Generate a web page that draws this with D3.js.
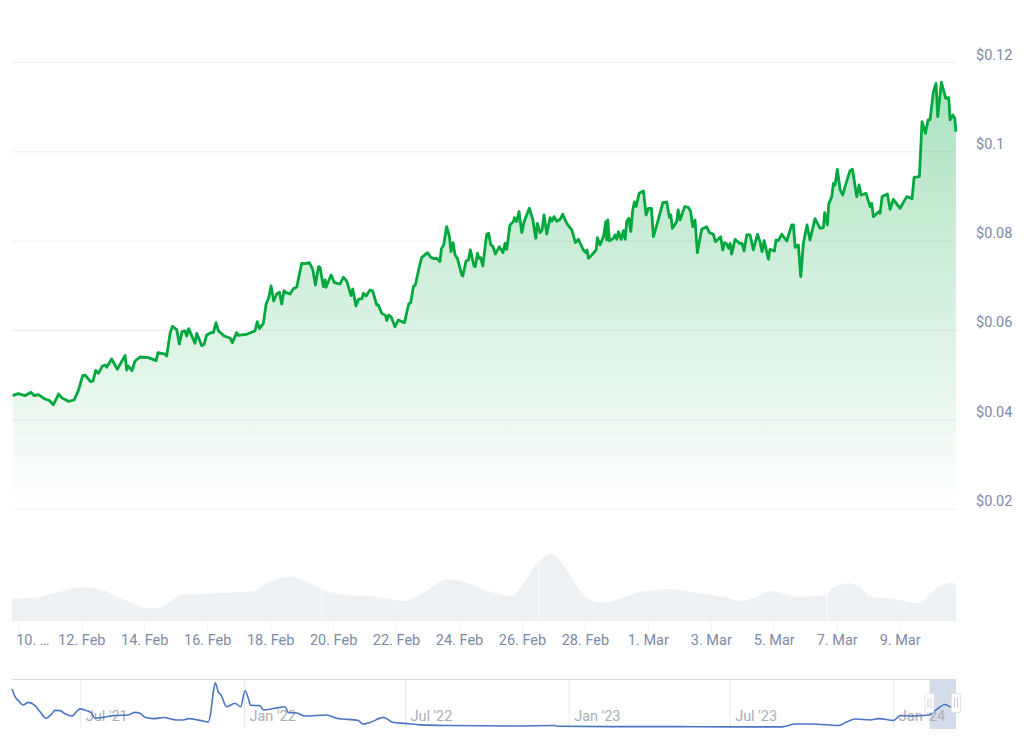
<!DOCTYPE html>
<html>
<head>
<meta charset="utf-8">
<script src="https://cdnjs.cloudflare.com/ajax/libs/d3/7.8.5/d3.min.js"></script>
<style>
  html, body { margin: 0; padding: 0; background: #fff; }
  svg { display: block; }
  text { font-family: Roboto, sans-serif; font-size: 14.5px; }
  .domain { display: none; }
</style>
</head>
<body>
<div id="plot"></div>
<script>
// price samples: roughly hourly steps since the left edge of the chart, and USD price
var priceHours = [0.5,4.8,9.9,14.5,17.1,20.1,25.2,28.5,31.6,35.7,38,43.1,47.4,50.7,54,55.8,60.1,61.9,64,66,69.1,71.4,72.4,76.2,80.5,86.4,87.7,88.9,91.7,94,97.9,104.2,110.1,111.6,117,118.2,120.8,122.6,125.9,127.9,130,132.3,133.5,135,139.9,141.2,145,146.8,148.8,151.9,153.9,155.9,157.7,162.1,166.6,168.4,171.7,173,179.4,185.7,187.5,189.1,192.1,194.2,196.2,198,200,202.3,204.4,206.1,207.9,209.5,212.5,215.1,217.6,221.4,224,227.3,229.8,231.9,234.2,235.4,238,239.3,240,243.9,246.4,250.7,
  253.2,255.8,259.1,260.4,262.9,264.7,267.5,268.5,270.6,273.6,275.7,278.7,280,282.6,285.6,286.4,287.9,289.9,292.7,295.3,299.9,303.2,304.7,306.8,308.3,311.3,313.1,317.5,320,322.6,324.6,327.1,328.2,329.9,332.2,334.3,335.5,337.1,338.6,340.4,343.7,344.5,347,348.8,350.3,353.1,354.1,355.7,356.9,358.2,359.8,362.8,364.3,365.9,367.4,369.4,372.5,375.3,376.8,378.1,380.6,383.2,384,385.7,387.5,389.6,391.4,395.4,398,400.3,401.5,403.6,405.1,406.6,408.7,411.2,412.8,414.3,416.3,418.9,420.9,424,427.8,430.6,432.9,436.7,438.5,439.5,440.5,443.1,446.4,447.4,449.4,452,453.8,454.5,455.3,456.6,459.6,460.9,462.2,463.5,465.5,467.3,468.6,469.8,471.4,472.9,474.4,475.7,477,479.3,482.6,484.6,486.4,488.7,490.2,493.3,497.4,500.4,502.4,503.5,504.7,508,509.1,510.6,
  514.1,516.9,518.7,520.2,522,523.8,527.1,530.9,533,536,537.6,541.6,543.2,544.7,546.2,547.8,548.8,550,552.6,555.9,557.9,559.5,561.5,564.1,566.6,569.7,571.7,573.2,574.8,578.1,579.3,582.7,583.9,585.7,588.3,592.1,595.9,597.2,598.5,601,602.8,604.8,607.6,609.9,613.7,617.6,620.1,621.1,623.2,624.2,626.5,627.8,629,630.8,632.9,634.9,637.4,640.5,642.3,645.6,647.4,648.9,652.7,655.8,657.1,658.3,662.4,663.4,665,669,671.1,673.6,678.7,683.8,687.9,689.4,693.5,695.5,698.1,700.1,701.6,704.2,706.2,707.5,710.3,713.6,715.9,716.9,719,720.5,721.4];
var priceValues = [.04527,.04572,.04527,.04602,.04527,.04549,.04452,.04422,.04325,.04564,.04482,.044,.0443,.04639,.04975,.0499,.0484,.04855,.05094,.05027,.05191,.05214,.05162,.05348,.05117,.0543,.05102,.05191,.05087,.05303,.05393,.05378,.05311,.0549,.0546,.05415,.05923,.0608,.06005,.05684,.05961,.05976,.05863,.06028,.05699,.05923,.05647,.05677,.05886,.05938,.05938,.06162,.05983,.05863,.05819,.05714,.05938,.05878,.05901,.05976,.06185,.06028,.06147,.0658,.06722,.06984,.06648,.06804,.06842,.0658,.06879,.06834,.06804,.06924,.06954,.07491,.07484,.07506,.07357,.07006,.07417,.07402,.06969,.07118,.06954,.0723,.07058,.07028,
  .07178,.07096,.06767,.06916,.06535,.06685,.067,.06819,.0676,.06894,.06871,.06558,.06558,.06371,.06319,.06207,.06334,.06282,.06072,.06222,.06162,.0658,.0661,.06969,.07006,.07417,.07618,.0773,.07626,.07596,.07603,.07529,.0782,.07902,.08313,.08089,.07753,.07954,.07678,.07603,.0723,.07208,.07543,.07566,.0779,.07432,.07417,.07715,.07603,.07618,.07432,.08141,.08163,.07902,.0788,.077,.07865,.0773,.07939,.07805,.0835,.08425,.08514,.08425,.08649,.08178,.08425,.08723,.08477,.08051,.08387,.08178,.08238,.08574,.08148,.08514,.0844,.08537,.08432,.08477,.08589,.08387,.08238,.07954,.08029,.0779,.0773,.0779,.07603,.07678,.0779,.08066,.07902,.08089,.08425,.08014,.08462,.07992,.08051,.08126,.08029,.08201,.08029,.08223,.08029,.08425,.08499,.08201,.08686,.08865,.08761,.09059,.09112,.08574,.08723,.08723,.08089,.08402,.0885,.08865,.08522,.08574,.08275,.08425,.08686,.08462,
  .0876,.08746,.08648,.08312,.08462,.0773,.08253,.08312,.08178,.08141,.07976,.08088,.0779,.07954,.07924,.07827,.07939,.077,.08029,.07939,.07939,.07767,.08126,.08126,.0779,.08141,.07976,.07752,.07999,.07581,.07805,.07767,.08014,.07999,.08141,.07991,.0835,.0835,.0785,.07902,.07192,.07939,.0835,.08014,.08492,.08275,.0829,.08626,.0835,.0882,.08985,.09283,.09246,.09597,.09134,.09022,.09283,.09567,.09597,.08985,.09246,.09022,.09059,.0876,.08835,.08537,.08648,.08611,.08985,.09044,.08701,.08925,.08723,.08985,.0894,.09418,.09433,.10665,.10403,.10702,.10702,.11337,.11523,.10777,.11546,.11187,.11202,.10702,.10814,.10739,.10441];

// volume curve in the lower panel, relative units
var volumeHours = [0,11.2,24,36.7,54.5,69.8,80,92.7,100.4,111.9,120.8,128.4,143.7,169.2,184.5,197.2,212.5,225.2,236.7,255.8,278.7,299.1,306.8,315.7,333.5,347.5,365.4,382.2,389.8,401.3,411.5,420.4,428.1,437,447.2,453.5,463.7,479,501.9,522.3,545.3,558,565.7,580.9,601.3,606.4,621.7,626.8,640.8,649.7,656.1,670.1,694.3,698.2,710.9,719.8,721.4];
var volumeValues = [23.7,22.7,25,29.3,33.7,31,24.3,17.7,13.3,13.3,19.3,26,27,28.7,30.3,39.3,44.3,39.3,31.7,26,24.3,20.3,22.7,29.3,41.7,38.3,29.3,25,36,57.7,67,57.7,42.7,26,18.7,18.3,22,28.7,31.7,28.3,23.7,20,22.7,30,23.7,24.3,26,32.7,37.7,32.7,24.3,22.7,17.7,22.7,36,38.3,34.3];
// thin pale breaks in the volume area
var volumeGapHours = [237, 402.5, 622.8];

// navigator: days since 1 Jul 2021 and USD price
var navDays = [-76.5,-73.3,-69.5,-63.9,-58.3,-50.8,-45.2,-38.5,-32.1,-28.4,-22.8,-17.2,-9.7,-.3,7.1,12.7,16.5,25.8,37.1,53.9,61.4,67,72.6,81.9,93.2,108.1,115.6,121.2,134.3,143.7,146.3,149.3,151.5,154.9,157.5,164.2,173.6,180,184.8,188.5,191.1,201.6,205.4,218.4,229.7,233.4,242.8,252.1,276.4,287.6,311.9,316.8,325,340,351.2,364.3,381.1,414.8,484.4,533,534.9,596.6,671.4,738.7,787.3,802.3,821,850.9,860.3,869.6,886.5,895.8,912.6,920.1,933.2,951.9,960.1,970.6,976.2,982.6];
var navValues = [.177,.142,.123,.103,.115,.1,.072,.042,.062,.078,.077,.063,.052,.085,.077,.065,.042,.046,.054,.057,.069,.065,.046,.04,.045,.034,.034,.04,.032,.025,.065,.165,.206,.162,.152,.095,.111,.095,.169,.134,.102,.1,.08,.088,.095,.068,.066,.052,.057,.042,.031,.015,.022,.046,.022,.018,.011,.008,.006,.008,.005,.003,.003,.002,.002,.015,.015,.008,.026,.038,.034,.04,.032,.054,.052,.057,.08,.105,.095,.098];

// axis labels
var xTickDates = ["2024-02-10","2024-02-12","2024-02-14","2024-02-16","2024-02-18","2024-02-20","2024-02-22","2024-02-24","2024-02-26","2024-02-28","2024-03-01","2024-03-03","2024-03-05","2024-03-07","2024-03-09"];
var xTickLabels = ["10. \u2026","12. Feb","14. Feb","16. Feb","18. Feb","20. Feb","22. Feb","24. Feb","26. Feb","28. Feb","1. Mar","3. Mar","5. Mar","7. Mar","9. Mar"];
var yTicks = [0.02,0.04,0.06,0.08,0.1,0.12];
var yTickLabels = ["$0.02","$0.04","$0.06","$0.08","$0.1","$0.12"];
var navTickDates = ["2021-07-01","2022-01-01","2022-07-01","2023-01-01","2023-07-01","2024-01-01"];
var navTickLabels = ["Jul '21","Jan '22","Jul '22","Jan '23","Jul '23","Jan '24"];

var svgWidth = 1024;
var svgHeight = 747;
var left = 12, right = 956;
var HOUR = 3600000, DAY = 86400000;

var svg = d3.select("#plot").append("svg")
  .attr("width", svgWidth)
  .attr("height", svgHeight);

// time scale for the main chart
var startTime = Date.UTC(2024, 1, 9, 19, 10);
var sampleStep = 0.9977 * HOUR;
var xScale = d3.scaleUtc()
  .domain([startTime, startTime + 719.8 * HOUR])
  .range([left, right]);
var priceTime = h => startTime + h * sampleStep;

var yScale = d3.scaleLinear().domain([0.02, 0.12]).range([508.5, 62]);
var volScale = d3.scaleLinear().domain([0, 100]).range([621, 521]);

var defs = svg.append("defs");
var grad = defs.append("linearGradient")
  .attr("id", "priceFill")
  .attr("x1", 0).attr("y1", 0).attr("x2", 0).attr("y2", 1);
grad.append("stop").attr("offset", "0%").attr("stop-color", "#00a83e").attr("stop-opacity", 0.33);
grad.append("stop").attr("offset", "100%").attr("stop-color", "#00a83e").attr("stop-opacity", 0);

// y axis, gridlines run the whole plot width
var yAxis = d3.axisRight(yScale)
  .tickValues(yTicks)
  .tickSize(right - left)
  .tickFormat((d, i) => yTickLabels[i]);
var yG = svg.append("g")
  .attr("transform", `translate(${left}, 0)`)
  .call(yAxis);
yG.selectAll(".tick line").attr("stroke", "#ebeff3").attr("stroke-width", 1);
yG.selectAll(".tick text")
  .attr("x", 964)
  .attr("dy", "-3")
  .attr("fill", "#7c8aa5")
  .style("font-size", "14.5px");

// volume
var volArea = d3.area()
  .x((d, i) => xScale(priceTime(volumeHours[i])))
  .y0(volScale(0))
  .y1(d => volScale(d))
  .curve(d3.curveMonotoneX);
svg.append("path")
  .datum(volumeValues)
  .attr("d", volArea)
  .attr("fill", "#eff2f5");
svg.selectAll(".volGap")
  .data(volumeGapHours)
  .enter()
  .append("line")
  .attr("class", "volGap")
  .attr("x1", d => xScale(priceTime(d)))
  .attr("x2", d => xScale(priceTime(d)))
  .attr("y1", 560)
  .attr("y2", 621)
  .attr("stroke", "#fff")
  .attr("stroke-opacity", 0.7);

// price area + line
var priceArea = d3.area()
  .x((d, i) => xScale(priceTime(priceHours[i])))
  .y0(yScale(0.02))
  .y1(d => yScale(d));
var priceLine = d3.line()
  .x((d, i) => xScale(priceTime(priceHours[i])))
  .y(d => yScale(d));

svg.append("path")
  .datum(priceValues)
  .attr("d", priceArea)
  .attr("fill", "url(#priceFill)");
svg.append("path")
  .datum(priceValues)
  .attr("d", priceLine)
  .attr("fill", "none")
  .attr("stroke", "#00a83e")
  .attr("stroke-width", 2.8)
  .attr("stroke-linejoin", "round");

// bottom axis of the main chart
var xAxis = d3.axisBottom(xScale)
  .tickValues(xTickDates.map(d => new Date(d + "T00:00:00Z")))
  .tickSize(10)
  .tickPadding(4)
  .tickFormat((d, i) => xTickLabels[i]);
var xG = svg.append("g")
  .attr("transform", "translate(0, 621)")
  .call(xAxis);
xG.selectAll(".tick line").attr("stroke", "#eef1f5");
xG.selectAll(".tick text").attr("fill", "#7c8aa5").style("font-size", "14.5px");
// first label gets pushed in from the edge
xG.select(".tick text").attr("dx", 14);

// navigator
var navScale = d3.scaleUtc()
  .domain([Date.UTC(2021, 6, 1) - 76.8 * DAY, Date.UTC(2021, 6, 1) + 984.5 * DAY])
  .range([left, right]);
var navTime = d => Date.UTC(2021, 6, 1) + d * 1.0019 * DAY;
var navY = d3.scaleLinear().domain([0, 0.206]).range([727.3, 682.7]);

var navTop = 679.5, navBottom = 729;
var selectFrom = navScale.invert(929.5);

svg.append("rect")
  .attr("x", navScale(selectFrom))
  .attr("y", navTop)
  .attr("width", right - navScale(selectFrom))
  .attr("height", navBottom - navTop)
  .attr("fill", "#d4dbe9");

var navAxis = d3.axisBottom(navScale)
  .tickValues(navTickDates.map(d => new Date(d + "T00:00:00Z")))
  .tickSize(navBottom - navTop - 1)
  .tickFormat((d, i) => navTickLabels[i]);
var navG = svg.append("g")
  .attr("transform", `translate(0, ${navTop})`)
  .call(navAxis);
navG.selectAll(".tick line").attr("stroke", "#e6e9f0");
navG.selectAll(".tick text")
  .attr("text-anchor", "start")
  .attr("x", 5)
  .attr("y", 31)
  .attr("fill", "#a9aeb9")
  .style("font-size", "14.5px");

svg.append("line")
  .attr("x1", left).attr("x2", right)
  .attr("y1", navTop).attr("y2", navTop)
  .attr("stroke", "#d5dbe8")
  .attr("stroke-width", 1.2);

var navLine = d3.line()
  .x((d, i) => navScale(navTime(navDays[i])))
  .y(d => navY(d))
  .curve(d3.curveMonotoneX);
svg.append("path")
  .datum(navValues)
  .attr("d", navLine)
  .attr("fill", "none")
  .attr("stroke", "#4a75c4")
  .attr("stroke-width", 1.6);

// drag handles at the ends of the selected range
[navScale(selectFrom), right].forEach(function (hx) {
  var h = svg.append("g").attr("transform", `translate(${hx}, 703)`);
  h.append("rect")
    .attr("x", -4.5).attr("y", -9.5)
    .attr("width", 9).attr("height", 19)
    .attr("rx", 1.5)
    .attr("fill", "#fff")
    .attr("stroke", "#e1e5ee");
  [-1.5, 1.5].forEach(function (dx) {
    h.append("line")
      .attr("x1", dx).attr("x2", dx)
      .attr("y1", -5).attr("y2", 5)
      .attr("stroke", "#c9cfdc");
  });
});
</script>
</body>
</html>
